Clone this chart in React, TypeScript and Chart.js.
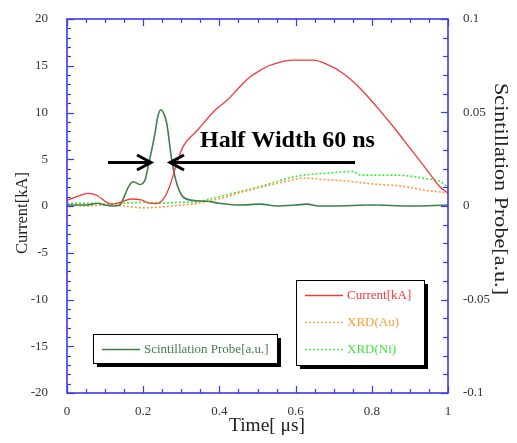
import React, { useEffect, useRef } from "react";
import { Chart, registerables } from "chart.js";

Chart.register(...registerables);

// ---- data (time in µs) ----
const currentTime = [0, 0.025, 0.055, 0.08, 0.1, 0.115, 0.14, 0.168, 0.195, 0.215, 0.232, 0.248, 0.26, 0.272, 0.286, 0.304, 0.34, 0.39, 0.42, 0.45, 0.48, 0.507, 0.53, 0.56, 0.593, 0.646, 0.68, 0.724, 0.769, 0.813, 0.856, 0.9, 0.944, 0.98, 1.0];
const currentKA = [0.6, 1.0, 1.35, 1.1, 0.5, 0.2, 0.4, 0.75, 0.65, 0.3, 0.25, 0.5, 1.2, 2.4, 4.3, 6.3, 8.0, 10.3, 11.3, 12.6, 13.8, 14.5, 15.0, 15.4, 15.6, 15.6, 15.2, 14.2, 12.6, 10.6, 8.5, 6.2, 3.9, 2.0, 1.4];

const probeTime = [0, 0.05, 0.08, 0.1, 0.12, 0.139, 0.15, 0.162, 0.174, 0.192, 0.205, 0.214, 0.231, 0.238, 0.246, 0.255, 0.262, 0.275, 0.288, 0.304, 0.33, 0.367, 0.4, 0.45, 0.507, 0.55, 0.6, 0.63, 0.66, 0.7, 0.8, 0.9, 1.0];
const probeAU = [0.0005, 0.0005, 0.0015, 0.0005, 0, 0.0005, 0.005, 0.0105, 0.013, 0.0115, 0.014, 0.022, 0.039, 0.0475, 0.0515, 0.049, 0.044, 0.0245, 0.012, 0.005, 0.003, 0.0025, 0.0015, 0.0005, 0.001, 0, 0.0005, 0.001, 0, 0, 0.0005, 0, 0.0005];

const xrdTime = [0, 0.05, 0.1, 0.15, 0.2, 0.25, 0.3, 0.33, 0.37, 0.42, 0.46, 0.507, 0.55, 0.593, 0.62, 0.68, 0.71, 0.75, 0.77, 0.82, 0.86, 0.9, 0.93, 0.98, 1.0];
const xrdAu = [0.0005, 0, 0.0005, 0, -0.001, -0.0005, 0.0005, 0.001, 0.0025, 0.005, 0.0075, 0.01, 0.012, 0.014, 0.015, 0.014, 0.0137, 0.013, 0.0125, 0.0115, 0.011, 0.01, 0.0087, 0.0075, 0.007];
const xrdNi = [0.0015, 0.0015, 0.001, 0.0015, 0.002, 0.0015, 0.002, 0.002, 0.0035, 0.006, 0.008, 0.0105, 0.013, 0.0155, 0.0165, 0.0175, 0.018, 0.0185, 0.0165, 0.0165, 0.0165, 0.016, 0.015, 0.013, 0.01];

const xTickStep = 0.2;
const leftTickStep = 5;
const rightTickStep = 0.05;

const AXIS = "#3a3aee";
const SERIF = "'Liberation Serif', 'Times New Roman', serif";
const RED = "#f43838";
const DKGREEN = "#3f7f4a";
const ORANGE = "#ff9a3c";
const LTGREEN = "#3ee63e";

function pts(xs: number[], ys: number[]) {
  return xs.map((x, i) => ({ x, y: ys[i] }));
}

function line(ctx: CanvasRenderingContext2D, x1: number, y1: number, x2: number, y2: number) {
  ctx.beginPath();
  ctx.moveTo(x1, y1);
  ctx.lineTo(x2, y2);
  ctx.stroke();
}

function fitText(ctx: CanvasRenderingContext2D, text: string, cx: number, cy: number, rot: number, target: number) {
  const w = ctx.measureText(text).width;
  ctx.save();
  ctx.translate(cx, cy);
  ctx.rotate(rot);
  ctx.scale(target / w, 1);
  ctx.textAlign = "center";
  ctx.textBaseline = "middle";
  ctx.fillText(text, 0, 0);
  ctx.restore();
}

const decor = {
  id: "decor",
  afterDraw(chart: any) {
    const { ctx, chartArea, scales } = chart;
    const { left, right, top, bottom } = chartArea;
    const xs = scales.x, yl = scales.y, yr = scales.y1;
    ctx.save();
    ctx.strokeStyle = AXIS;
    ctx.lineWidth = 1.6;
    ctx.strokeRect(left, top, right - left, bottom - top);
    ctx.lineWidth = 1.2;
    for (let i = 0; i <= 20; i++) {
      const px = Math.round(xs.getPixelForValue(i / 20)) + 0.5;
      const L = i % 4 === 0 ? 7 : 4;
      line(ctx, px, bottom, px, bottom - L);
      line(ctx, px, top, px, top + L);
    }
    for (let v = -20; v <= 20; v++) {
      const py = Math.round(yl.getPixelForValue(v)) + 0.5;
      const L = v % 5 === 0 ? 7 : 4;
      line(ctx, left, py, left + L, py);
    }
    for (let i = -10; i <= 10; i++) {
      const py = Math.round(yr.getPixelForValue(i / 100)) + 0.5;
      const L = i % 5 === 0 ? 7 : 5;
      line(ctx, right, py, right - L, py);
    }

    // axis titles
    ctx.fillStyle = "#222";
    ctx.font = `17px ${SERIF}`;
    fitText(ctx, "Current[kA]", 23, 213, -Math.PI / 2, 82);
    ctx.font = `19px ${SERIF}`;
    fitText(ctx, "Time[ μs]", 267, 426, 0, 76);
    ctx.font = `18px ${SERIF}`;
    fitText(ctx, "Scintillation Probe[a.u.]", 500, 189, Math.PI / 2, 212);

    // annotation
    ctx.fillStyle = "#000";
    ctx.font = `bold 24px ${SERIF}`;
    ctx.textAlign = "left";
    ctx.textBaseline = "alphabetic";
    ctx.fillText("Half Width 60 ns", 200, 147);
    ctx.strokeStyle = "#000";
    ctx.lineWidth = 3;
    ctx.lineCap = "butt";
    line(ctx, 108, 162.5, 150, 162.5);
    line(ctx, 171, 162.5, 355, 162.5);
    ctx.lineWidth = 3;
    ctx.beginPath();
    ctx.moveTo(137, 155); ctx.lineTo(151, 162.5); ctx.lineTo(137, 170);
    ctx.stroke();
    ctx.beginPath();
    ctx.moveTo(184, 155); ctx.lineTo(170, 162.5); ctx.lineTo(184, 170);
    ctx.stroke();

    // legends
    const ds = chart.data.datasets;
    const box = (x: number, y: number, w: number, h: number) => {
      ctx.fillStyle = "#000";
      ctx.fillRect(x + 4, y + 4, w, h);
      ctx.fillStyle = "#fff";
      ctx.fillRect(x, y, w, h);
      ctx.strokeStyle = "#000";
      ctx.lineWidth = 1;
      ctx.strokeRect(x + 0.5, y + 0.5, w, h);
    };
    const entry = (d: any, x: number, y: number) => {
      ctx.save();
      ctx.strokeStyle = d.borderColor;
      ctx.lineWidth = 1.3;
      ctx.setLineDash(d.borderDash || []);
      line(ctx, x, y + 0.5, x + 38, y + 0.5);
      ctx.restore();
      ctx.fillStyle = d.borderColor;
      ctx.font = `13px ${SERIF}`;
      ctx.textAlign = "left";
      ctx.textBaseline = "middle";
      ctx.fillText(d.label, x + 42, y + 1);
    };
    box(93, 334, 184, 29);
    entry(ds[1], 102, 349);
    box(296, 280, 128, 85);
    entry(ds[0], 305, 295);
    entry(ds[2], 305, 322);
    entry(ds[3], 305, 349);
    ctx.restore();
  },
};

export default function App() {
  const ref = useRef<HTMLCanvasElement>(null);
  useEffect(() => {
    document.body.style.margin = "0";
    const canvas = ref.current!;
    const tickFont = { family: SERIF, size: 13 };
    const common = { pointRadius: 0, cubicInterpolationMode: "monotone", fill: false };
    const chart = new Chart(canvas, {
      type: "line",
      data: {
        datasets: [
          { label: "Current[kA]", data: pts(currentTime, currentKA), yAxisID: "y", borderColor: RED, borderWidth: 1.3, ...common },
          { label: "Scintillation Probe[a.u.]", data: pts(probeTime, probeAU), yAxisID: "y1", borderColor: DKGREEN, borderWidth: 1.6, ...common },
          { label: "XRD(Au)", data: pts(xrdTime, xrdAu), yAxisID: "y1", borderColor: ORANGE, borderWidth: 1.6, borderDash: [2, 2], ...common },
          { label: "XRD(Ni)", data: pts(xrdTime, xrdNi), yAxisID: "y1", borderColor: LTGREEN, borderWidth: 1.6, borderDash: [2, 2], ...common },
        ],
      },
      options: {
        responsive: false,
        animation: false,
        devicePixelRatio: 1,
        layout: { padding: { top: 19, left: 0, right: 0, bottom: 0 } },
        plugins: { legend: { display: false }, tooltip: { enabled: false } },
        scales: {
          x: {
            type: "linear", min: 0, max: 1, position: "bottom",
            grid: { display: false }, border: { display: false },
            ticks: { stepSize: xTickStep, font: tickFont, color: "#333", padding: 3, maxRotation: 0, callback: (v: any) => String(Math.round(v * 100) / 100) },
            afterFit: (s: any) => { s.height = 50; },
          },
          y: {
            type: "linear", min: -20, max: 20, position: "left",
            grid: { display: false }, border: { display: false },
            ticks: { stepSize: leftTickStep, font: tickFont, color: "#333", padding: 11, callback: (v: any) => String(Math.round(v)) },
            afterFit: (s: any) => { s.width = 67; },
          },
          y1: {
            type: "linear", min: -0.1, max: 0.1, position: "right",
            grid: { display: false }, border: { display: false },
            ticks: { stepSize: rightTickStep, font: tickFont, color: "#333", padding: 7, callback: (v: any) => String(Math.round(v * 1000) / 1000) },
            afterFit: (s: any) => { s.width = 69; },
          },
        },
      },
      plugins: [decor],
    } as any);
    return () => chart.destroy();
  }, []);
  return (
    <div style={{ position: "fixed", left: 0, top: 0, width: 517, height: 443, background: "#fff" }}>
      <canvas ref={ref} width={517} height={443} style={{ display: "block" }} />
    </div>
  );
}
